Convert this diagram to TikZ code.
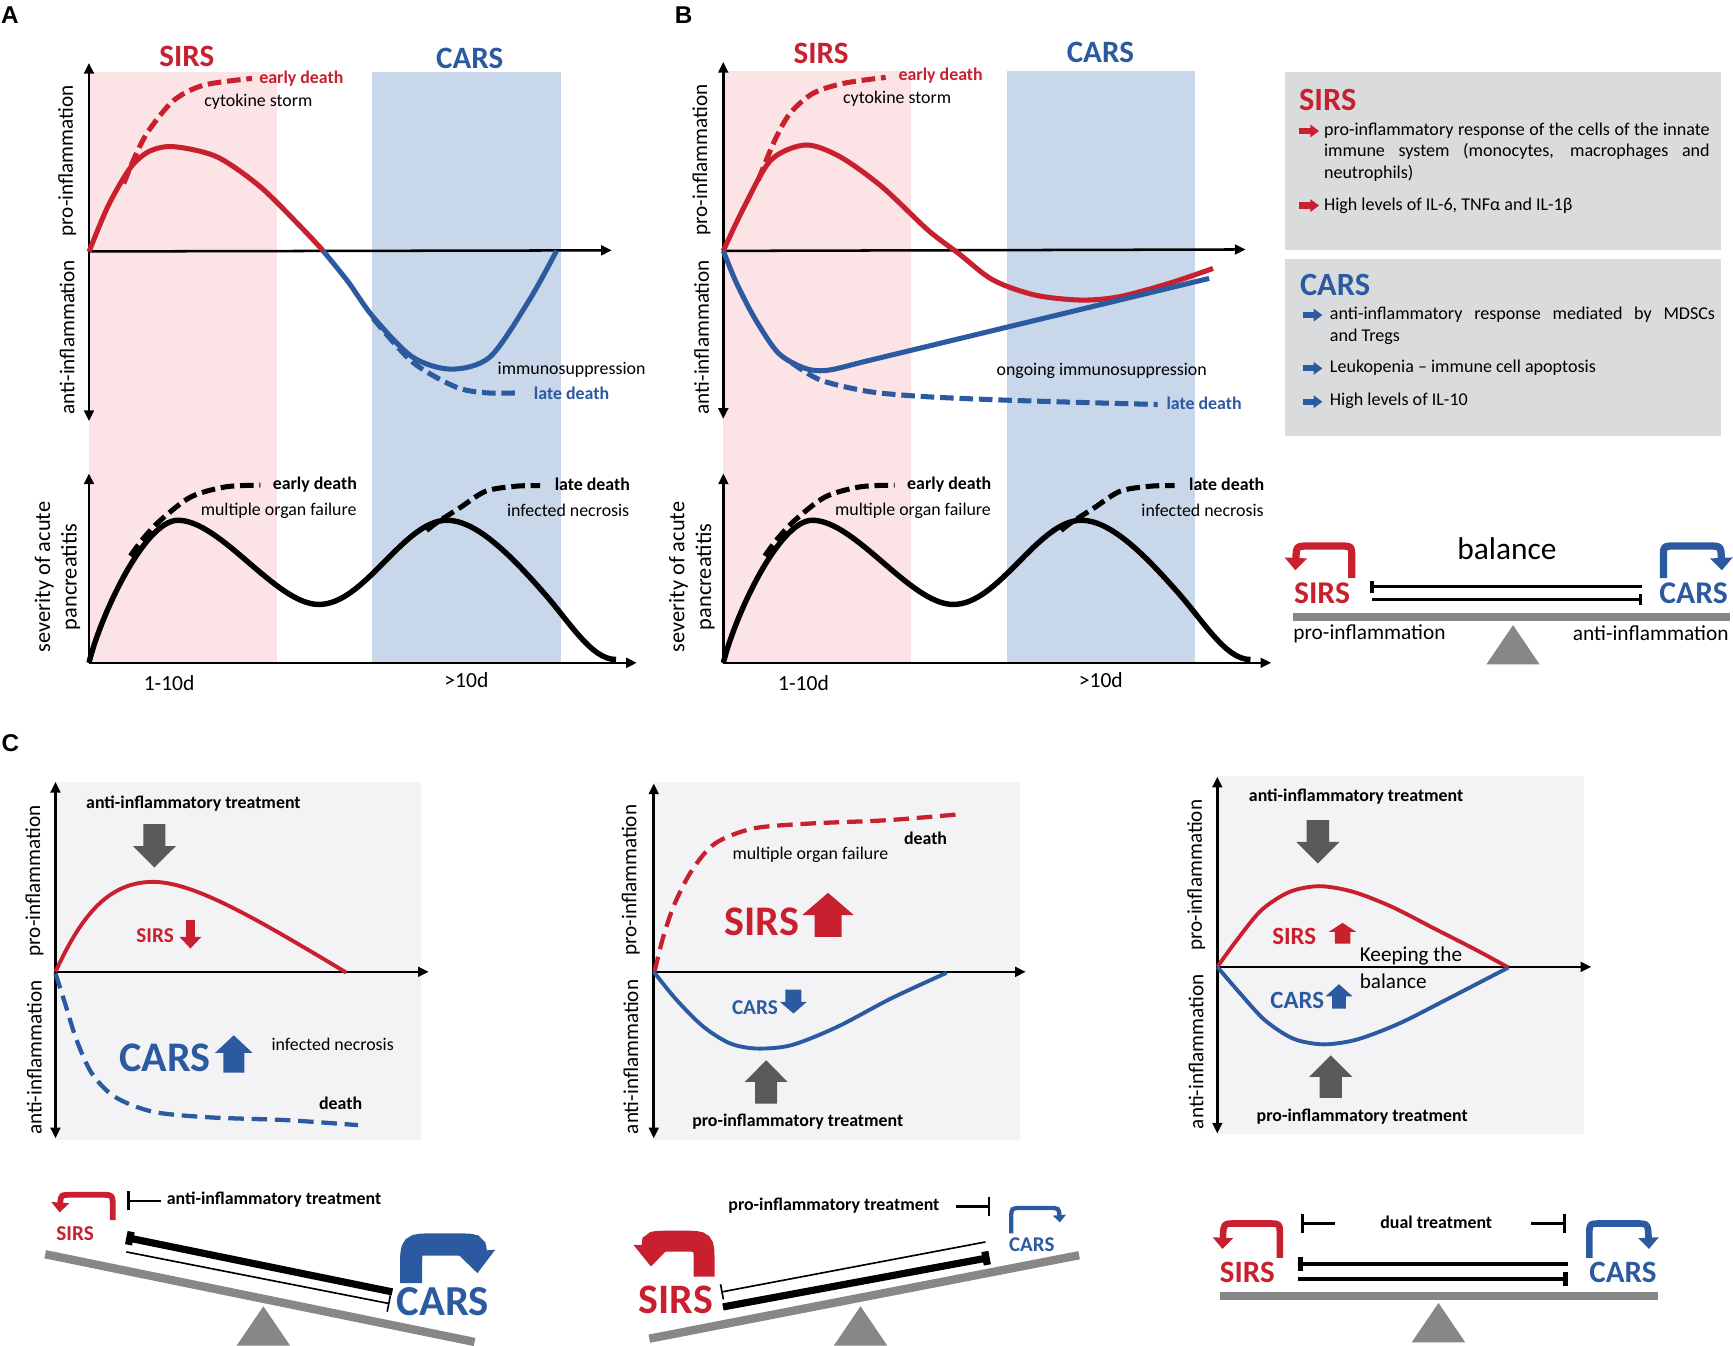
\documentclass[tikz,border=0pt]{standalone}
\usepackage{fontspec}
\setmainfont{Carlito}
\newfontfamily\letterfont{Liberation Sans}
\usetikzlibrary{arrows.meta}

\definecolor{sirsred}{RGB}{200,32,46}
\definecolor{carsblue}{RGB}{44,90,160}
\definecolor{pinkband}{RGB}{252,227,229}
\definecolor{blueband}{RGB}{201,215,234}
\definecolor{boxgray}{RGB}{218,219,221}
\definecolor{chartbg}{RGB}{243,243,245}
\definecolor{arrowgray}{RGB}{89,89,89}
\definecolor{beamgray}{RGB}{135,135,135}

% block arrow: colour, centre x, tail y, head base y, tip y, half shaft, half head
\newcommand{\blockarrow}[7]{%
  \fill[#1] ({#2-#6},#3) -- ({#2-#6},#4) -- ({#2-#7},#4) -- (#2,#5) -- ({#2+#7},#4) -- ({#2+#6},#4) -- ({#2+#6},#3) -- cycle;}
% no hyphenation in the box texts
\newcommand{\nohy}{\hyphenpenalty=10000 \exhyphenpenalty=10000 \lefthyphenmin=64 }

\tikzset{
  axis/.style={line width=1.3pt,-{Triangle[length=5.5pt,width=5pt]}},
  axisboth/.style={line width=1.3pt,{Triangle[length=5.5pt,width=5pt]}-{Triangle[length=5.5pt,width=5pt]}},
  curve/.style={line width=2.6pt},
  dcurve/.style={line width=2.6pt,dash pattern=on 7pt off 3pt},
  ccurve/.style={line width=2pt},
  dccurve/.style={line width=2.2pt,dash pattern=on 8pt off 4pt},
  inhib/.style={line width=1.7pt},
  txt/.style={inner sep=0pt,font=\fontsize{9.2}{11}\selectfont},
  txtb/.style={inner sep=0pt,font=\fontsize{9.2}{11}\selectfont\bfseries},
  axlab/.style={inner sep=0pt,rotate=90,font=\fontsize{10.9}{13}\selectfont},
  grouplab/.style={inner sep=0pt,font=\fontsize{16}{18}\selectfont\bfseries},
  biglab/.style={inner sep=0pt,font=\fontsize{21.7}{24}\selectfont\bfseries},
  smalllab/.style={inner sep=0pt,font=\fontsize{10.9}{13}\selectfont\bfseries},
  midlab/.style={inner sep=0pt,font=\fontsize{12.8}{15}\selectfont\bfseries},
  boxtxt/.style={inner sep=0pt,text width=6.98cm,align=justify,font=\fontsize{9.3}{11.15}\selectfont},
  panellab/.style={inner sep=0pt,font=\letterfont\fontsize{12.5}{14}\selectfont\bfseries},
  hooktip/.style={-{Triangle[length=0pt 1.7,width=0pt 3]}},
  bighooktip/.style={-{Triangle[length=0pt 1,width=0pt 1.7]}},
}

\begin{document}
\begin{tikzpicture}[x=0.02cm,y=-0.02cm]
\fill[white] (0,0) rectangle (1568,1217);
\useasboundingbox (0,0) rectangle (1568,1217);

% draw panel A
\node[panellab] (labA) at (9,14) {A};
\fill[pinkband] (80.5,65) rectangle (250.4,600);
\fill[blueband] (336.8,65) rectangle (507.5,600);
\node[grouplab,sirsred] (sirsA) at (169,51) {SIRS};
\node[grouplab,carsblue] (carsA) at (425,53) {CARS};

% inflammation curves A
\draw[axisboth] (80.5,57) -- (80.5,381);
\draw[axis] (80.5,227.5) -- (553.5,226.5);
\draw[dcurve,sirsred] plot[smooth] coordinates {(112,166) (122,142) (134,119) (157,91) (184.5,77) (228,71)};
\draw[curve,sirsred] plot[smooth] coordinates {(80.5,227.8) (98,186) (117.8,152) (135,137) (157,132.7) (196,141.8) (235.5,169) (274.8,208) (292.4,227)};
\draw[dcurve,carsblue] plot[smooth] coordinates {(337.5,288) (372.9,327.3) (412,350) (439.6,355.4) (471,355.4)};
\draw[curve,carsblue] plot[smooth] coordinates {(292.4,227) (315,255) (337.5,286.6) (372.9,322.8) (408.2,334) (443.5,322.8) (478.9,271.5) (503.6,226.9)};
\node[txtb,sirsred,anchor=west] (edA) at (234.3,70.9) {early death};
\node[txt,anchor=west] (csA) at (184.5,92) {cytokine storm};
\node[txt,anchor=west] (imA) at (450,335) {immunosuppression};
\node[txtb,carsblue,anchor=west] (ldA) at (482.8,355.4) {late death};
\node[axlab] (proA) at (60.8,145.5) {pro-inflammation};
\node[axlab] (antiA) at (60.8,305) {anti-inflammation};

% severity curves A
\begin{scope}[shift={(0,0)}]
\draw[axis] (80.5,600) -- (80.5,428.4);
\draw[axis] (80.5,599.7) -- (576.2,599.7);
\draw[dcurve] plot[smooth] coordinates {(118,503) (129,488) (145.2,470.7) (172.7,449.6) (204.1,440.5) (235.5,439)};
\draw[dcurve] plot[smooth] coordinates {(386,480) (395,473) (416,459.5) (439.6,444.4) (467,439.9) (488.7,439.3)};
\draw[curve,line width=2.8pt] (80.5,599.7) .. controls (90,560) and (130,471) .. (161,470.7) .. controls (200,471) and (250,547) .. (288.5,546.9) .. controls (330,547) and (365,471) .. (404.3,470.7) .. controls (430,470.7) and (460,500) .. (490.6,534.8) .. controls (515,562) and (535,597) .. (557.4,596.7);
\node[txtb,anchor=west] (edsA) at (246.5,438.9) {early death};
\node[txt,anchor=west] (mofA) at (181.3,462.4) {multiple organ failure};
\node[txtb,anchor=west] (ldsA) at (501.6,438.3) {late death};
\node[txt,anchor=west] (infA) at (458.4,461.5) {infected necrosis};
\node[txt,font=\fontsize{11.1}{13}\selectfont] (earlyA) at (153,618) {1-10d};
\node[txt,font=\fontsize{11.1}{13}\selectfont] (lateA) at (422,615) {>10d};
\node[axlab,align=center,font=\fontsize{11.5}{13.7}\selectfont] (sevA) at (52,522) {severity of acute\\pancreatitis};
\end{scope}

% draw panel B
\node[panellab] (labB) at (618.5,13.6) {B};
\fill[pinkband] (654.4,64.3) rectangle (824.1,600);
\fill[blueband] (910.7,64.3) rectangle (1081.1,600);
\node[grouplab,sirsred] (sirsB) at (742.8,48.3) {SIRS};
\node[grouplab,carsblue] (carsB) at (995.6,47.7) {CARS};

% inflammation curves B
\draw[axisboth] (654.4,56) -- (654.4,379);
\draw[axis] (654.4,227) -- (1127,225.7);
\draw[dcurve,sirsred] plot[smooth] coordinates {(686,163) (701,127) (714.8,102.6) (735.5,84.5) (763.2,75.4) (801.3,70)};
\draw[dcurve,carsblue] plot[smooth] coordinates {(716,328) (742.7,344) (787.7,354.5) (839.6,359) (908.8,362) (978.1,364.1) (1047.4,366)};
\draw[curve,sirsred] plot[smooth] coordinates {(654.4,226.9) (673.4,187) (697.6,144.8) (728.8,131.2) (760,141.8) (798,169) (839.6,208.2) (867.3,229.3) (898.5,253.4) (936.6,267) (978.1,271.5) (1012.7,268.5) (1057.7,256.4) (1097.5,242.9)};
\draw[curve,carsblue] plot[smooth] coordinates {(654.4,226.9) (666.5,256.4) (683.8,289.6) (704.6,319.8) (728.8,333.4) (749.6,334.9) (787.7,325.8) (900,298.7) (1000,274.6) (1094,251.9)};
\node[txtb,sirsred,anchor=west] (edB) at (812.7,68.8) {early death};
\node[txt,anchor=west] (csB) at (762.5,89.6) {cytokine storm};
\node[txt,anchor=west] (imB) at (901.4,335.5) {ongoing immunosuppression};
\node[txtb,carsblue,anchor=west] (ldB) at (1055.1,365) {late death};
\node[axlab] (proB) at (634.8,144.8) {pro-inflammation};
\node[axlab] (antiB) at (634.8,305) {anti-inflammation};

% severity curves B
\begin{scope}[shift={(574,0)}]
\draw[axis] (80.5,600) -- (80.5,428.4);
\draw[axis] (80.5,599.7) -- (576.2,599.7);
\draw[dcurve] plot[smooth] coordinates {(118,503) (129,488) (145.2,470.7) (172.7,449.6) (204.1,440.5) (235.5,439)};
\draw[dcurve] plot[smooth] coordinates {(386,480) (395,473) (416,459.5) (439.6,444.4) (467,439.9) (488.7,439.3)};
\draw[curve,line width=2.8pt] (80.5,599.7) .. controls (90,560) and (130,471) .. (161,470.7) .. controls (200,471) and (250,547) .. (288.5,546.9) .. controls (330,547) and (365,471) .. (404.3,470.7) .. controls (430,470.7) and (460,500) .. (490.6,534.8) .. controls (515,562) and (535,597) .. (557.4,596.7);
\node[txtb,anchor=west] (edsB) at (246.5,438.9) {early death};
\node[txt,anchor=west] (mofB) at (181.3,462.4) {multiple organ failure};
\node[txtb,anchor=west] (ldsB) at (501.6,438.3) {late death};
\node[txt,anchor=west] (infB) at (458.4,461.5) {infected necrosis};
\node[txt,font=\fontsize{11.1}{13}\selectfont] (earlyB) at (153,618) {1-10d};
\node[txt,font=\fontsize{11.1}{13}\selectfont] (lateB) at (422,615) {>10d};
\node[axlab,align=center,font=\fontsize{11.5}{13.7}\selectfont] (sevB) at (52,522) {severity of acute\\pancreatitis};
\end{scope}

% draw SIRS and CARS boxes
\fill[boxgray] (1162.9,65.4) rectangle (1557.5,226.2);
\fill[boxgray] (1162.9,234.4) rectangle (1557.5,394.6);
\node[inner sep=0pt,font=\fontsize{16.7}{19}\selectfont\bfseries,sirsred,anchor=west] (sirsbox) at (1175,90.5) {SIRS};
\draw[sirsred,line width=3.2pt,-{Triangle[length=4.5pt,width=6.3pt]}] (1175,118.5) -- (1193.5,118.5);
\node[boxtxt,anchor=north west] (sirsi) at (1197.6,110.5) {\nohy pro-inflammatory response of the cells of the innate immune system (monocytes, macrophages and neutrophils)\par};
\draw[sirsred,line width=3.2pt,-{Triangle[length=4.5pt,width=6.3pt]}] (1175,186) -- (1193.5,186);
\node[boxtxt,anchor=north west] (sirsii) at (1197.6,178.5) {High levels of IL-6, TNFα and IL-1β};
\node[inner sep=0pt,font=\fontsize{16.7}{19}\selectfont\bfseries,carsblue,anchor=west] (carsbox) at (1175.9,257.9) {CARS};
\draw[carsblue,line width=3.2pt,-{Triangle[length=4.5pt,width=6.3pt]}] (1178.6,285.1) -- (1196.5,285.1);
\node[boxtxt,anchor=north west,text width=6.97cm] (carsi) at (1203,277.5) {\nohy anti-inflammatory response mediated by MDSCs and~Tregs\par};
\draw[carsblue,line width=3.2pt,-{Triangle[length=4.5pt,width=6.3pt]}] (1178.6,333.3) -- (1196.5,333.3);
\node[boxtxt,anchor=north west] (carsii) at (1203,325.5) {Leukopenia – immune cell apoptosis};
\draw[carsblue,line width=3.2pt,-{Triangle[length=4.5pt,width=6.3pt]}] (1178.6,363.5) -- (1196.5,363.5);
\node[boxtxt,anchor=north west] (carsiii) at (1203,355.5) {High levels of IL-10};

% draw balance
\node[inner sep=0pt,font=\fontsize{16.2}{18}\selectfont] (bal) at (1363.5,496.2) {balance};
\node[inner sep=0pt,font=\fontsize{16.3}{18}\selectfont\bfseries,sirsred] (sirsbal) at (1196.1,537) {SIRS};
\node[inner sep=0pt,font=\fontsize{16.3}{18}\selectfont\bfseries,carsblue] (carsbal) at (1532.4,537) {CARS};
\draw[sirsred,line width=3.75pt,hooktip] (1223,523) -- (1223,505) .. controls (1223,494) .. (1212,494) -- (1185,494) .. controls (1173,494) .. (1172,516);
\draw[carsblue,line width=3.75pt,hooktip] (1505,523) -- (1505,505) .. controls (1505,494) .. (1516,494) -- (1545,494) .. controls (1557,494) .. (1558,516);
\draw[inhib,{Bar[width=6pt]}-] (1239.8,530.9) -- (1485.7,530.9);
\draw[inhib,-{Bar[width=6pt]}] (1241,542.4) -- (1485.7,542.4);
\fill[beamgray] (1369,565.6) -- (1393,601.2) -- (1344.8,601.2) -- cycle;
\fill[beamgray] (1170,555) rectangle (1565,561.7);
\node[inner sep=0pt,font=\fontsize{11}{13}\selectfont,anchor=west] (probal) at (1169.9,573.2) {pro-inflammation};
\node[inner sep=0pt,font=\fontsize{11}{13}\selectfont,anchor=east] (antibal) at (1564.4,573.2) {anti-inflammation};

% draw panel C
\node[panellab] (labC) at (9.5,672) {C};

% chart C1: anti-inflammatory treatment
\fill[chartbg] (50.2,707.4) rectangle (381,1031.7);
\draw[axisboth] (50.2,707.4) -- (50.2,1030);
\draw[axis] (50.2,879.3) -- (387.9,879.3);
\draw[ccurve,sirsred] (50.2,879.3) .. controls (75,825) and (100,798) .. (138.5,797.9) .. controls (175,798) and (230,830) .. (313.4,880);
\draw[dccurve,carsblue] plot[smooth] coordinates {(50.2,880.8) (58.9,907.9) (69.3,941) (83.1,971.2) (103.9,992.4) (138.5,1005.9) (190.5,1011) (259.8,1013.5) (323.8,1018)};
\blockarrow{arrowgray}{139.7}{745.7}{765.6}{784.9}{9.9}{19.4}
\blockarrow{sirsred}{172.3}{832.6}{847.7}{858.2}{4}{9.9}
\blockarrow{carsblue}{211.5}{970.4}{952.7}{936.7}{9.5}{17}
\node[txtb] (atC1) at (175,727) {anti-inflammatory treatment};
\node[smalllab,sirsred] (sirsC1) at (140.3,846.2) {SIRS};
\node[biglab,carsblue] (carsC1) at (149.2,956.9) {CARS};
\node[txt] (infC1) at (301,944.8) {infected necrosis};
\node[txtb] (deathC1) at (308.2,997.9) {death};
\node[axlab] (proC1) at (31.2,797) {pro-inflammation};
\node[axlab] (antiC1) at (31.2,957) {anti-inflammation};

% chart C2: pro-inflammatory treatment
\fill[chartbg] (591.5,707.4) rectangle (922.9,1031.7);
\draw[axisboth] (591.5,708.9) -- (591.5,1030);
\draw[axis] (591.5,879.3) -- (928.1,879.3);
\draw[dccurve,sirsred] plot[smooth] coordinates {(592.2,879.3) (600.1,847.6) (610.5,817.5) (626.1,787.3) (646.9,763.2) (681.5,749.6) (733.5,745.1) (802.7,742.1) (865.1,737)};
\draw[ccurve,carsblue] plot[smooth] coordinates {(591.5,879.3) (612.3,904.9) (636.5,929) (660.7,944.1) (685,948.7) (716.2,945.6) (757.7,929) (806.2,903.4) (856.4,880.2)};
\blockarrow{sirsred}{749.2}{847.7}{828}{807.8}{12.2}{23.4}
\blockarrow{carsblue}{717.9}{895.3}{906.5}{917}{7.2}{12.1}
\blockarrow{arrowgray}{693.2}{998.5}{978.9}{959.3}{9.9}{19.4}
\node[txtb] (deathC2) at (837.4,758.7) {death};
\node[txt] (mofC2) at (733.2,773.8) {multiple organ failure};
\node[biglab,sirsred] (sirsC2) at (689.3,834.1) {SIRS};
\node[smalllab,carsblue] (carsC2) at (683,911.6) {CARS};
\node[txtb] (ptC2) at (721.8,1015.1) {pro-inflammatory treatment};
\node[axlab] (proC2) at (570.7,796.4) {pro-inflammation};
\node[axlab] (antiC2) at (570.7,956.3) {anti-inflammation};

% chart C3: keeping the balance
\fill[chartbg] (1101.4,702.3) rectangle (1433.4,1026.2);
\draw[axisboth] (1101.4,702.8) -- (1101.4,1025.6);
\draw[axis] (1101.4,874.8) -- (1439.8,874.8);
\draw[ccurve,sirsred] plot[smooth] coordinates {(1101.4,874.8) (1119,850.7) (1141.3,823.5) (1166.9,806.9) (1194,801.8) (1224.3,806.9) (1259.4,820.5) (1297.7,840.1) (1336,859.7) (1364.8,875.4)};
\draw[ccurve,carsblue] plot[smooth] coordinates {(1101.4,874.8) (1122.2,899) (1144.5,923.1) (1170,939.7) (1197.2,944.9) (1227.5,940.6) (1265.8,926.1) (1310.5,903.5) (1364.8,875.4)};
\blockarrow{arrowgray}{1192.4}{742.1}{761.7}{781.3}{10.2}{19.5}
\blockarrow{sirsred}{1214.7}{853.7}{843.1}{835}{7}{12.4}
\blockarrow{carsblue}{1211.5}{912.5}{901.4}{890.5}{6.3}{12.2}
\blockarrow{arrowgray}{1204}{993.4}{974.4}{954.8}{10}{19.6}
\node[txtb] (atC3) at (1227,721) {anti-inflammatory treatment};
\node[midlab,sirsred] (sirsC3) at (1171,847.1) {SIRS};
\node[midlab,carsblue] (carsC3) at (1173.7,905.6) {CARS};
\node[txt,font=\fontsize{10.9}{13.6}\selectfont,align=left,anchor=west] (keepC3) at (1230,875.5) {Keeping the\\balance};
\node[txtb] (ptC3) at (1232.5,1010) {pro-inflammatory treatment};
\node[axlab] (proC3) at (1082.3,791.9) {pro-inflammation};
\node[axlab] (antiC3) at (1082.3,951.7) {anti-inflammation};

% draw seesaw 1
\fill[beamgray] (238.3,1181.9) -- (262.5,1217.5) -- (214.1,1217.5) -- cycle;
\draw[beamgray,line width=4.3pt] (40.9,1134.8) -- (429.4,1214.2);
\draw[sirsred,line width=3pt,hooktip] (102,1104) -- (102,1092) .. controls (102,1081) .. (91,1081) -- (66,1081) .. controls (55,1081) .. (54,1097);
\node[smalllab,sirsred] (sirsS1) at (68,1116.1) {SIRS};
\draw[line width=1.4pt,{Bar[width=9.8pt]}-] (115.3,1086.6) -- (145.4,1086.6);
\node[txtb,anchor=west] (atS1) at (150.6,1085.4) {anti-inflammatory treatment};
\draw[line width=3.7pt,{Bar[width=6.9pt]}-] (114.3,1119.7) -- (355,1168.9);
\draw[line width=0.85pt,-{Bar[width=8.6pt]}] (114.3,1132.7) -- (352.5,1179.5);
\draw[carsblue,line width=11.4pt,bighooktip] (372,1161) -- (372,1145) .. controls (372,1126) .. (391,1126) -- (412,1126) .. controls (430,1126) .. (432,1152);
\node[inner sep=0pt,font=\fontsize{22}{24}\selectfont\bfseries,carsblue] (carsS1) at (400.8,1178) {CARS};

% draw seesaw 2
\fill[beamgray] (778.6,1181.9) -- (802.8,1217.5) -- (754.4,1217.5) -- cycle;
\draw[beamgray,line width=4.3pt] (587.5,1211.2) -- (976.4,1135.7);
\draw[sirsred,line width=10.8pt,bighooktip] (637,1155) -- (637,1141) .. controls (637,1123) .. (619,1123) -- (608,1123) .. controls (590,1123) .. (589,1146);
\node[inner sep=0pt,font=\fontsize{21.6}{24}\selectfont\bfseries,sirsred] (sirsS2) at (611.5,1176.5) {SIRS};
\draw[line width=0.85pt,{Bar[width=8pt]}-] (652.5,1169) -- (891.6,1123.7);
\draw[line width=3.7pt,-{Bar[width=7pt]}] (654.1,1182.5) -- (895.4,1137.8);
\node[txtb] (ptS2) at (754.5,1090.5) {pro-inflammatory treatment};
\draw[line width=1.4pt,-{Bar[width=10pt]}] (865.3,1091.4) -- (896,1091.4);
\draw[carsblue,line width=2.2pt,hooktip] (915,1116) -- (915,1102) .. controls (915,1093) .. (924,1093) -- (949,1093) .. controls (958,1093) .. (959,1106);
\node[inner sep=0pt,font=\fontsize{10.8}{13}\selectfont\bfseries,carsblue] (carsS2) at (933.5,1126.1) {CARS};

% draw seesaw 3
\fill[beamgray] (1301.5,1178.9) -- (1325.7,1214.5) -- (1277.3,1214.5) -- cycle;
\fill[beamgray] (1103.6,1168.9) rectangle (1500,1175.8);
\draw[sirsred,line width=3.4pt,hooktip] (1158,1138) -- (1158,1118) .. controls (1158,1107) .. (1147,1107) -- (1118,1107) .. controls (1107,1107) .. (1106,1130);
\draw[carsblue,line width=3.4pt,hooktip] (1438,1138) -- (1438,1118) .. controls (1438,1107) .. (1449,1107) -- (1480,1107) .. controls (1491,1107) .. (1492,1130);
\node[inner sep=0pt,font=\fontsize{16}{18}\selectfont\bfseries,sirsred] (sirsS3) at (1128.5,1151.7) {SIRS};
\node[inner sep=0pt,font=\fontsize{16}{18}\selectfont\bfseries,carsblue] (carsS3) at (1468.4,1151.7) {CARS};
\draw[line width=1.4pt,{Bar[width=10.2pt]}-] (1177,1107) -- (1208,1107);
\draw[line width=1.4pt,-{Bar[width=10.2pt]}] (1385.6,1107) -- (1416.6,1107);
\node[txtb] (dtS3) at (1299.5,1105.6) {dual treatment};
\draw[line width=2.4pt,{Bar[width=7.2pt]}-] (1174.6,1143.6) -- (1418.6,1143.6);
\draw[line width=2.4pt,-{Bar[width=7.2pt]}] (1174.6,1157.2) -- (1418.6,1157.2);

\end{tikzpicture}
\end{document}
